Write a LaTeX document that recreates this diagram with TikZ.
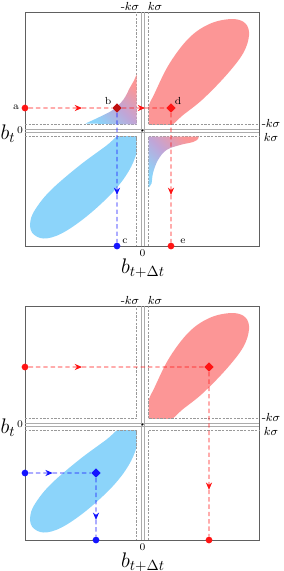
\documentclass[tikz,border=0pt]{standalone}
\usepackage{amsmath}
\usetikzlibrary{arrows.meta,shapes.geometric,calc}

\definecolor{lobered}{RGB}{252,150,150}
\definecolor{lobeblue}{RGB}{140,212,250}
\definecolor{lobemix}{RGB}{192,165,215}
\definecolor{pathred}{RGB}{255,20,20}
\definecolor{pathblue}{RGB}{20,20,255}

\begin{document}
\begin{tikzpicture}[
  x=0.24mm, y=-0.24mm,
  frame/.style={draw=gray!75!black, line width=0.5pt},
  kline/.style={draw=gray!80, line width=0.4pt, dash pattern=on 1.6pt off 0.9pt},
  zline/.style={draw=gray!65, line width=0.35pt},
  rpath/.style={draw=pathred, line width=0.6pt, dash pattern=on 3pt off 2pt},
  bpath/.style={draw=pathblue, line width=0.6pt, dash pattern=on 3pt off 2pt},
  tip/.style={-{Stealth[length=5pt, width=4.2pt, inset=1.6pt]}},
  rdot/.style={circle, fill=pathred, inner sep=0pt, minimum size=4.6pt},
  bdot/.style={circle, fill=pathblue, inner sep=0pt, minimum size=4.6pt},
  rdiam/.style={diamond, fill=pathred, inner sep=0pt, minimum size=6.5pt},
  bdiam/.style={diamond, fill=pathblue, inner sep=0pt, minimum size=6.5pt},
  lbl/.style={font=\scriptsize, inner sep=1pt},
  klbl/.style={font=\footnotesize, inner sep=1pt},
  axlbl/.style={font=\Large, inner sep=0pt},
  mixfill/.style={top color=lobered, bottom color=lobeblue, middle color=lobemix, shading angle=-45}
]
\useasboundingbox (0,0) rectangle (284,571);

% the two panels share frame, kσ bands and lobes
\foreach \cy/\p in {130.5/1, 424.5/2}{
\begin{scope}[shift={(142.5,\cy)}]
  \begin{scope}
    \clip (6,-6) rectangle (116.5,-118.5);
    \fill[lobered] plot[smooth cycle, tension=0.6] coordinates {
      (4,-2) (5.5,-22) (12,-37) (27,-67) (47,-93) (68,-107)
      (90,-111.5) (103,-107) (106.5,-95) (100.5,-77) (83.5,-55)
      (60,-31) (40,-15) (24,-2)};
  \end{scope}
  \begin{scope}
    \clip (-6,6) rectangle (-117.5,115.5);
    \fill[lobeblue] plot[smooth cycle, tension=0.6] coordinates {
      (-4,2) (-5.5,21) (-14,41) (-30,62) (-56,86) (-81,103) (-99,108)
      (-110.5,102) (-112,90) (-106,77) (-91,59) (-63,35) (-36,15) (-20,2)};
  \end{scope}
  \draw[frame] (-117.5,-118.5) rectangle (116.5,115.5);
  \draw[kline] (-117.5,-6) -- (-6,-6) -- (-6,-118.5);
  \draw[kline] (6,-118.5) -- (6,-6) -- (116.5,-6);
  \draw[kline] (-117.5,6) -- (-6,6) -- (-6,115.5);
  \draw[kline] (6,115.5) -- (6,6) -- (116.5,6);
  \draw[zline] (-1.5,-118.5) -- (-1.5,115.5);
  \draw[zline] (1.5,-118.5) -- (1.5,115.5);
  \draw[zline] (-117.5,-1.5) -- (116.5,-1.5);
  \draw[zline] (-117.5,1.5) -- (116.5,1.5);
  \fill (0,0) circle (0.7pt);
  \node[klbl, anchor=south east] (tk\p) at (-1.5,-118.5) {-$k\sigma$};
  \node[klbl, anchor=south west] (tp\p) at (3.5,-118.5) {$k\sigma$};
  \node[klbl, anchor=west] (rk\p) at (117.5,-7) {-$k\sigma$};
  \node[klbl, anchor=west] (rp\p) at (119.5,6.5) {$k\sigma$};
  \node[axlbl] (bt\p) at (-134.5,3.5) {$b_t$};
  \node[lbl] (zl\p) at (-122.5,0) {0};
  \node[lbl] (zb\p) at (0,123) {0};
  \node[axlbl] (bx\p) at (0.5,137.5) {$b_{t+\Delta t}$};
\end{scope}
}

% mixed regions of the upper panel
\begin{scope}[shift={(142.5,130.5)}]
  \shade[mixfill] plot[smooth, tension=0.6] coordinates {
      (-6,-56) (-8.5,-50) (-12.5,-43) (-19,-31) (-29,-21) (-42,-14) (-57,-7)}
    -- (-6,-6) -- cycle;
  \shade[mixfill] plot[smooth, tension=0.6] coordinates {
      (56,6) (55.5,8.5) (50.5,11.5) (37.5,14.5) (24,19.5) (15.5,29.5)
      (10.5,42.5) (9,53) (6,57)}
    -- (6,6) -- cycle;
\end{scope}

% upper panel trajectory
\node[rdot] (a) at (25,108) {};
\node[rdiam, fill=pathred!75!black] (b) at (117,108) {};
\node[rdiam] (d) at (171,108) {};
\node[bdot] (c) at (117,246) {};
\node[rdot] (e) at (171,246) {};
\coordinate (ab) at ($(a)!0.62!(b)$);
\coordinate (bd) at ($(b)!0.52!(d)$);
\coordinate (bc) at ($(b)!0.63!(c)$);
\coordinate (de) at ($(d)!0.63!(e)$);
\draw[rpath, tip] (a) -- (ab);
\draw[rpath] (ab) -- (b);
\draw[rpath, tip] (b) -- (bd);
\draw[rpath] (bd) -- (d);
\draw[bpath, tip] (b) -- (bc);
\draw[bpath] (bc) -- (c);
\draw[rpath, tip] (d) -- (de);
\draw[rpath] (de) -- (e);
\node[lbl] (la) at (16,107) {a};
\node[lbl] (lb) at (108,101) {b};
\node[lbl] (ld) at (178,101) {d};
\node[lbl] (lc) at (125,241) {c};
\node[lbl] (le) at (183,241) {e};

% lower panel trajectories
\node[rdot] (p) at (25,367) {};
\node[rdiam] (q) at (209,367) {};
\node[rdot] (r) at (209,540) {};
\node[bdot] (u) at (25,473) {};
\node[bdiam] (v) at (96,473) {};
\node[bdot] (w) at (96,540) {};
\coordinate (pq) at ($(p)!0.31!(q)$);
\coordinate (qr) at ($(q)!0.71!(r)$);
\coordinate (uv) at ($(u)!0.39!(v)$);
\coordinate (vw) at ($(v)!0.70!(w)$);
\draw[rpath, tip] (p) -- (pq);
\draw[rpath] (pq) -- (q);
\draw[rpath, tip] (q) -- (qr);
\draw[rpath] (qr) -- (r);
\draw[bpath, tip] (u) -- (uv);
\draw[bpath] (uv) -- (v);
\draw[bpath, tip] (v) -- (vw);
\draw[bpath] (vw) -- (w);

\end{tikzpicture}
\end{document}
